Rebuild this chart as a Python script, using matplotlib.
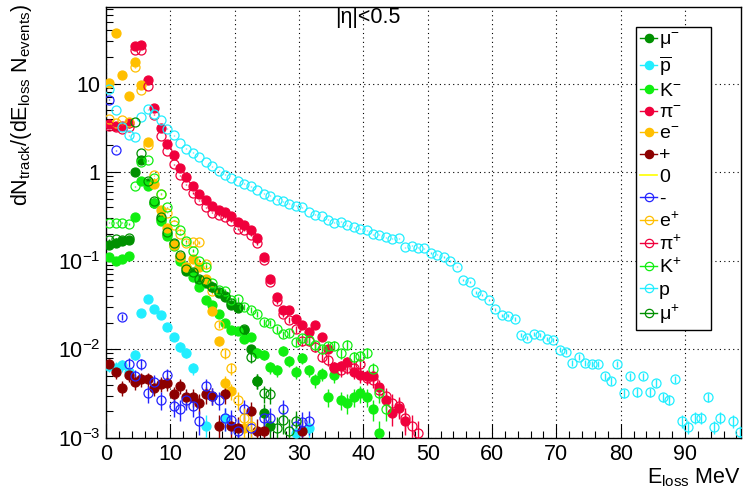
import numpy as np
import matplotlib
matplotlib.use('Agg')
import matplotlib.pyplot as plt
from matplotlib.lines import Line2D
from matplotlib.ticker import FixedLocator, FixedFormatter, LogLocator, MultipleLocator, NullFormatter

plt.rcParams['font.family'] = ['Liberation Sans', 'DejaVu Sans']
plt.rcParams['mathtext.fontset'] = 'custom'
plt.rcParams['mathtext.rm'] = 'Liberation Sans'
plt.rcParams['mathtext.it'] = 'Liberation Sans:italic'
plt.rcParams['mathtext.bf'] = 'Liberation Sans:bold'

nan = None

# dN/(dE Nevents) per 1 MeV bin, first bin centred at 0.5 MeV
mu_minus = [0.15, 0.16, 0.165, 0.17, 1.0, 1.36, 0.75, 0.45, 0.297, 0.2, 0.155, 0.111,
            0.077, 0.072, 0.06, 0.056, 0.05, 0.043, 0.039, 0.032, 0.029, 0.0165, 0.01,
            0.0044, 0.0019, 0.00136]
pbar = [0.0065, 0.0062, 0.0066, 0.0055, 0.0087, 0.026, 0.037, 0.0285, 0.0245, 0.018,
        0.0138, 0.0107, 0.0092, 0.0061, nan, 0.00136, nan, nan, 0.0017, nan, nan, nan,
        nan, nan, nan, nan, nan, nan, nan, 0.00114, nan, 0.0013]
K_minus = [0.11, 0.10, 0.104, 0.113, 0.315, 0.8, 0.69, 0.45, 0.284, 0.19, 0.148, 0.10,
           0.084, 0.065, 0.05, 0.036, 0.032, 0.025, 0.020, 0.0165, 0.0162, 0.0132, 0.0138,
           0.0092, 0.0087, 0.0063, 0.0058, 0.0096, 0.0074, 0.0056, 0.0079, 0.0058, 0.0045,
           0.0053, 0.0029, 0.0051, 0.0027, 0.0025, 0.0029, 0.0032, 0.0029, 0.0021, 0.00115]
pi_minus = [3.47, 3.29, 3.3, 3.58, 26.4, 27.1, 10.9, 5.35, 3.18, 2.09, 1.55, 1.11, 0.877,
            0.695, 0.57, 0.49, 0.42, 0.378, 0.355, 0.32, 0.277, 0.256, 0.225, 0.181, 0.111,
            0.062, 0.039, 0.0277, 0.0277, 0.022, 0.019, 0.0159, 0.0188, 0.0138, 0.010,
            0.0063, 0.0065, 0.0072, 0.0055, 0.0051, 0.005, 0.005, 0.0038, 0.0027, 0.0019,
            0.0022, 0.00155]
e_minus = [10.1, 36.8, 12.4, 7.2, 17.5, 9.6, 2.19, 0.74, 0.376, 0.235, 0.152, 0.111,
           0.084, 0.105, 0.085, 0.062, 0.027, 0.0123, 0.0042, 0.0034, nan, 0.0013]
plus = [0.0068, 0.0056, 0.0037, 0.0052, 0.0043, 0.0046, 0.0046, 0.0037, 0.0041, 0.0042,
        0.0031, 0.0039, 0.0029, 0.0029, 0.0025, 0.0031, 0.003, 0.00136, 0.0031, 0.00136,
        0.0013, nan, 0.002, 0.0012, 0.0012, nan, nan, nan, nan, nan, 0.0012]
neutral = []
minus = [6.6, 1.76, 0.0233, 0.0069, 0.005, 0.0068, 0.0032, 0.0043, 0.0027, 0.0052, 0.0023,
         0.0021, 0.0027, 0.0023, 0.00155, 0.0039, 0.003, 0.0027, 0.0017, 0.0016, 0.0012,
         0.0021, 0.0013, nan, 0.0017, 0.0017, nan, 0.0021, nan, 0.00136, 0.0015, 0.00155]
e_plus = [4.0, 3.6, 3.85, 3.7, 15.2, 8.4, 2.0, 0.92, 0.56, 0.35, 0.25, 0.2, 0.16, 0.161,
          0.161, 0.092, 0.045, 0.019, 0.009, 0.0061, 0.0027, 0.00167, 0.00136]
pi_plus = [3.3, 3.2, 3.1, 3.2, 24.0, 24.0, 9.4, 4.47, 2.55, 1.73, 1.22, 0.92, 0.72, 0.58,
           0.48, 0.40, 0.35, 0.33, 0.31, 0.28, 0.23, 0.22, 0.197, 0.157, 0.102, 0.058,
           0.035, 0.025, 0.0214, 0.017, 0.0123, 0.0124, 0.0107, 0.0083, 0.0075, 0.0062,
           0.0058, 0.0062, 0.0062, 0.0068, 0.0048, 0.0045, 0.0035, 0.003, 0.0025, 0.0023,
           0.0017, 0.00136, 0.00114]
K_plus = [0.27, 0.27, 0.27, 0.26, 0.69, 1.3, 1.36, 0.85, 0.57, 0.4, 0.284, 0.22, 0.166,
          0.13, 0.1, 0.085, 0.056, 0.047, 0.046, 0.036, 0.037, 0.030, 0.0277, 0.025, 0.0203,
          0.020, 0.0168, 0.0148, 0.0155, 0.012, 0.0135, 0.0127, 0.0111, 0.0100, 0.0108,
          0.011, 0.009, 0.0113, 0.0082, 0.0085, 0.0092, 0.006, 0.0032, 0.0021]
proton = [8.6, 5.0, 3.2, 2.6, 2.5, 4.2, 5.1, 4.5, 3.85, 3.1, 2.6, 2.15, 1.84, 1.66, 1.48,
          1.30, 1.16, 1.04, 0.94, 0.86, 0.79, 0.74, 0.69, 0.63, 0.57, 0.545, 0.49, 0.47,
          0.44, 0.42, 0.40, 0.355, 0.33, 0.32, 0.29, 0.27, 0.277, 0.25, 0.24, 0.23, 0.22,
          0.20, 0.196, 0.184, 0.177, 0.18, 0.142, 0.148, 0.14, 0.138, 0.122, 0.117, 0.11,
          0.10, 0.086, 0.061, 0.057, 0.044, 0.041, 0.036, 0.0285, 0.0244, 0.024, 0.022,
          0.0146, 0.0134, 0.0149, 0.0146, 0.013, 0.0127, 0.0099, 0.0094, 0.0071, 0.0082,
          0.0070, 0.0069, 0.0068, 0.0050, 0.0044, 0.0069, 0.0032, 0.0050, 0.0033, 0.0050,
          0.0033, 0.0042, 0.0029, 0.0027, 0.0046, 0.00155, 0.00134, 0.0017, 0.0017, 0.0029,
          0.00134, 0.0017, nan, 0.00155, 0.00116]
mu_plus = [0.17, 0.175, 0.17, 0.18, 3.7, 1.64, 0.8, 0.47, 0.31, 0.21, 0.16, 0.115, 0.08,
           0.074, 0.062, 0.057, 0.05, 0.044, 0.04, 0.033, 0.03, 0.017, 0.0081, 0.0044,
           0.0032, 0.0031, 0.0013, 0.0016, 0.0012, 0.00155]

# (label, values, colour, filled, 1/N_events scale for stat. errors)
series = [
    ('μ$^{-}$', mu_minus, '#009000', True, 1.5e-4),
    (r'$\overline{\mathrm{p}}$', pbar, '#22eeff', True, 1.5e-4),
    ('K$^{-}$', K_minus, '#10ee10', True, 1.5e-4),
    ('π$^{-}$', pi_minus, '#f0003c', True, 1.5e-4),
    ('e$^{-}$', e_minus, '#ffbf00', True, 1.5e-4),
    ('+', plus, '#8c0000', True, 1.5e-4),
    ('0', neutral, '#ffff00', None, 1.5e-4),
    ('-', minus, '#2424ff', False, 1.5e-4),
    ('e$^{+}$', e_plus, '#ffbf00', False, 1.5e-4),
    ('π$^{+}$', pi_plus, '#f0003c', False, 1.5e-4),
    ('K$^{+}$', K_plus, '#10ee10', False, 1.5e-4),
    ('p', proton, '#22eeff', False, 4e-5),
    ('μ$^{+}$', mu_plus, '#009000', False, 1.5e-4),
]

fig = plt.figure(figsize=(7.43, 4.90), dpi=100)
ax = fig.add_axes([0.1427, 0.1061, 0.8546, 0.8796])

ms = 6.5
handles, labels = [], []
for label, vals, col, filled, scale in series:
    if filled is None:
        handles.append(Line2D([], [], color=col, lw=1.2))
        labels.append(label)
        continue
    y = np.array(vals, dtype=float)
    x = np.arange(len(y)) + 0.5
    ok = ~np.isnan(y)
    err = np.sqrt(y[ok] * scale)
    fc = col if filled else 'none'
    ax.errorbar(x[ok], y[ok], yerr=err, fmt='o', ms=ms, color=col, mfc=fc, mec=col,
                mew=0.9, elinewidth=1.0, capsize=0, zorder=3)
    handles.append(Line2D([], [], color=col, lw=1.0, marker='o', ms=6, mfc=fc,
                          mec=col, mew=0.9))
    labels.append(label)

ax.set_yscale('log')
ax.set_xlim(0, 98.7)
ax.set_ylim(1e-3, 73)

ax.xaxis.set_major_locator(MultipleLocator(10))
ax.xaxis.set_minor_locator(MultipleLocator(2))
ax.yaxis.set_major_locator(FixedLocator([1e-3, 1e-2, 1e-1, 1, 10]))
ax.yaxis.set_major_formatter(FixedFormatter(['10$^{-3}$', '10$^{-2}$', '10$^{-1}$', '1', '10']))
ax.yaxis.set_minor_locator(LogLocator(base=10, subs=np.arange(2, 10)))
ax.yaxis.set_minor_formatter(NullFormatter())

ax.tick_params(which='both', direction='in', top=False, right=False, width=0.8,
               labelsize=15.5)
ax.tick_params(which='major', length=10)
ax.tick_params(which='minor', length=5)
ax.tick_params(axis='x', pad=4)
ax.tick_params(axis='y', pad=4)
for s in ax.spines.values():
    s.set_linewidth(1.0)

ax.grid(True, which='major', color='black', ls=(0, (1, 3)), lw=0.8)
ax.set_axisbelow(True)

fig.text(22 / 743, 1 - 4 / 490, 'dN$_{\\mathrm{track}}$/(dE$_{\\mathrm{loss}}$ N$_{\\mathrm{events}}$)',
         rotation=90, ha='center', va='top', fontsize=15.5)
fig.text(741 / 743, 1 - 483 / 490, 'E$_{\\mathrm{loss}}$ MeV', ha='right', va='baseline',
         fontsize=15.5)
fig.text(335 / 743, 1 - 17 / 490, '|η|<0.5', ha='left', va='center', fontsize=15.5)

leg = ax.legend(handles, labels, loc='upper left',
                bbox_to_anchor=(636 / 743, 1 - 333 / 490, 75 / 743, 306 / 490),
                bbox_transform=fig.transFigure, mode='expand', fontsize=14, frameon=True,
                fancybox=False, edgecolor='black', framealpha=1, borderpad=0.2,
                labelspacing=0.2, handlelength=0.9, handletextpad=0.08, borderaxespad=0)
leg.get_frame().set_linewidth(1.0)

fig.savefig('out.png', dpi=100)
